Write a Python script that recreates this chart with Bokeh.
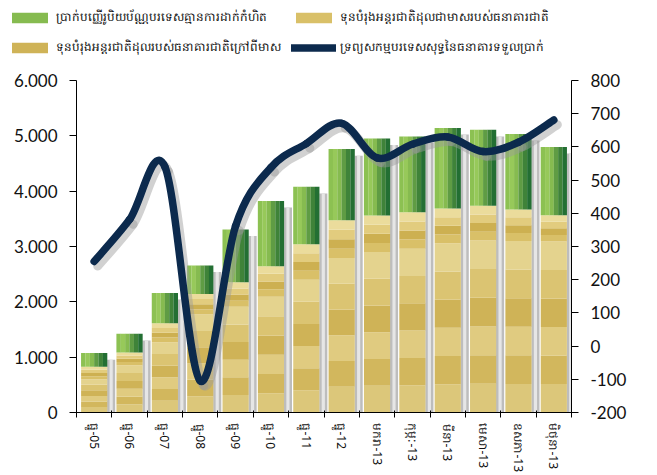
from bokeh.plotting import figure
from bokeh.layouts import column
from bokeh.models import Range1d, LinearAxis, FixedTicker, Legend, LegendItem, ColumnDataSource
from bokeh.embed import file_html
from bokeh.resources import INLINE

categories = ["ធ្នូ-05", "ធ្នូ-06", "ធ្នូ-07", "ធ្នូ-08", "ធ្នូ-09", "ធ្នូ-10", "ធ្នូ-11",
              "ធ្នូ-12", "មករា-13", "កុម្ភៈ-13", "មីនា-13", "មេសា-13", "ឧសភា-13", "មិថុនា-13"]

# stacked bars (left axis, millions USD)
reserves_ex_gold = [600, 855, 1270, 1770, 1910, 2090, 2400, 2790, 2900, 2960, 3060, 3110, 3100, 3090]
gold_reserves = [229, 231, 341, 373, 444, 555, 640, 684, 660, 657, 626, 627, 569, 476]
fx_deposits = [245, 337, 549, 514, 955, 1178, 1040, 1286, 1394, 1372, 1457, 1372, 1365, 1234]
# line (right axis)
net_foreign_assets = [255, 381, 540, -105, 362, 538, 610, 671, 567, 608, 630, 586, 614, 681]

left_ticks = [0, 1000, 2000, 3000, 4000, 5000, 6000]
left_tick_labels = ["0", "1.000", "2.000", "3.000", "4.000", "5.000", "6.000"]
right_ticks = [-200, -100, 0, 100, 200, 300, 400, 500, 600, 700, 800]
right_tick_labels = ["-200", "-100", "0", "100", "200", "300", "400", "500", "600", "700", "800"]

legend_labels = [
    "ប្រាក់បញ្ញើរូបិយប័ណ្ណបរទេសគ្មានការដាក់កំហិត",
    "ទុនបំរុងអន្តរជាតិដុលជាមាសរបស់ធនាគារជាតិ",
    "ទុនបំរុងអន្តរជាតិដុលរបស់ធនាគារជាតិក្រៅពីមាស",
    "ទ្រព្យសកម្មបរទេសសុទ្ធនៃធនាគារទទួលប្រាក់",
]

GREEN_COLS = ["#8cc152", "#97c95a", "#86bb50", "#5f9c44", "#3f8339", "#236f33"]
BAND_COLS = ["#d9c068", "#cdb051", "#e2cc7e", "#ebdc9c"]
TEX_COLS = ["#dcc77a", "#d2b75d", "#e0cb80", "#cfb357", "#dbc472", "#e4d38e"]
NAVY = "#0c2a4d"

n = len(categories)
xs = [i + 0.5 for i in range(n)]
lvl1 = reserves_ex_gold
lvl2 = [a + b for a, b in zip(lvl1, gold_reserves)]
tops = [a + b for a, b in zip(lvl2, fx_deposits)]

W = 649
LH = 64
p = figure(width=W, height=475 - LH, x_range=Range1d(0, n), y_range=Range1d(0, 6000),
           output_backend="svg", toolbar_location=None,
           min_border_left=76, min_border_right=78, min_border_top=16, min_border_bottom=20)
p.frame_align = False
p.extra_y_ranges = {"nfa": Range1d(-200, 800)}
p.xgrid.visible = False
p.ygrid.visible = False
p.outline_line_color = None

BW = 0.74

# shadow strips to the right of each bar
sh_top = [t - 120 for t in tops]
p.vbar(x=[x + 0.48 for x in xs], width=0.23, bottom=0, top=sh_top, fill_color="#bdbdbd", line_color=None)
p.vbar(x=[x + 0.48 for x in xs], width=0.09, bottom=0, top=sh_top, fill_color="#e6e6e6", line_color=None)

# textured bottom segment (reserves excluding gold)
k = len(TEX_COLS)
for j, c in enumerate(TEX_COLS):
    b = [v * j / k for v in lvl1]
    t = [v * (j + 1) / k for v in lvl1]
    p.vbar(x=xs, width=BW, bottom=b, top=t, fill_color=c, line_color=None)

# smooth gold band
k = len(BAND_COLS)
for j, c in enumerate(BAND_COLS):
    b = [lo + (hi - lo) * j / k for lo, hi in zip(lvl1, lvl2)]
    t = [lo + (hi - lo) * (j + 1) / k for lo, hi in zip(lvl1, lvl2)]
    p.vbar(x=xs, width=BW, bottom=b, top=t, fill_color=c, line_color=None)

# green top segment (horizontal gradient as vertical strips)
k = len(GREEN_COLS)
sw = BW / k
for j, c in enumerate(GREEN_COLS):
    p.vbar(x=[x - BW / 2 + sw * (j + 0.5) for x in xs], width=sw * 1.02, bottom=lvl2, top=tops,
           fill_color=c, line_color=None)

# smoothed line (Bezier segments computed from the data points)
def bezier_source(xv, yv, dx=0.0, dy=0.0):
    m = len(xv)
    d = dict(x0=[], y0=[], x1=[], y1=[], cx0=[], cy0=[], cx1=[], cy1=[])
    for i in range(m - 1):
        ip = max(i - 1, 0)
        inn = min(i + 2, m - 1)
        d["x0"].append(xv[i] + dx); d["y0"].append(yv[i] + dy)
        d["x1"].append(xv[i + 1] + dx); d["y1"].append(yv[i + 1] + dy)
        d["cx0"].append(xv[i] + (xv[i + 1] - xv[ip]) / 6 + dx)
        d["cy0"].append(yv[i] + (yv[i + 1] - yv[ip]) / 6 + dy)
        d["cx1"].append(xv[i + 1] - (xv[inn] - xv[i]) / 6 + dx)
        d["cy1"].append(yv[i + 1] - (yv[inn] - yv[i]) / 6 + dy)
    return ColumnDataSource(d)

p.bezier(x0="x0", y0="y0", x1="x1", y1="y1", cx0="cx0", cy0="cy0", cx1="cx1", cy1="cy1",
         source=bezier_source(xs, net_foreign_assets, 0.1, -14), y_range_name="nfa",
         line_color="#9a9a9a", line_alpha=0.45, line_width=9, line_cap="round")
p.bezier(x0="x0", y0="y0", x1="x1", y1="y1", cx0="cx0", cy0="cy0", cx1="cx1", cy1="cy1",
         source=bezier_source(xs, net_foreign_assets), y_range_name="nfa",
         line_color=NAVY, line_width=7.5, line_cap="round")

# axes
FONT = "Lato"
ya = p.yaxis[0]
ya.ticker = FixedTicker(ticks=left_ticks)
ya.major_label_overrides = dict(zip(left_ticks, left_tick_labels))
ra = LinearAxis(y_range_name="nfa", ticker=FixedTicker(ticks=right_ticks))
ra.major_label_overrides = dict(zip(right_ticks, right_tick_labels))
p.add_layout(ra, "right")
for ax in (ya, ra):
    ax.axis_line_color = "#000000"
    ax.major_tick_line_color = "#000000"
    ax.major_tick_out = 7
    ax.major_tick_in = 0
    ax.minor_tick_line_color = None
    ax.major_label_text_font = FONT
    ax.major_label_text_font_size = "17px"
    ax.major_label_text_color = "#111111"
    ax.major_label_standoff = 12

xa = p.xaxis[0]
xa.ticker = FixedTicker(ticks=xs, minor_ticks=list(range(n + 1)))
xa.major_label_overrides = dict(zip(xs, categories))
xa.major_label_orientation = "vertical"
xa.major_tick_line_color = None
xa.minor_tick_line_color = "#000000"
xa.minor_tick_out = 5
xa.minor_tick_in = 2
xa.axis_line_color = "#000000"
xa.major_label_text_font = "Noto Sans"
xa.major_label_text_font_size = "12px"
xa.major_label_text_color = "#111111"
xa.major_label_standoff = 5

# legend strip above the chart (legend-only renderers are hidden, icons still drawn)
lf = figure(width=W, height=LH, x_range=Range1d(0, n), y_range=Range1d(0, 6000),
            output_backend="svg", toolbar_location=None, x_axis_type=None, y_axis_type=None,
            min_border_left=0, min_border_right=0, min_border_top=0, min_border_bottom=0)
lf.frame_align = False
lf.xgrid.visible = False
lf.ygrid.visible = False
lf.outline_line_color = None
r_green = lf.vbar(x=xs[:1], top=tops[:1], width=BW, fill_color=GREEN_COLS[2], line_color=None, visible=False)
r_gold = lf.vbar(x=xs[:1], top=tops[:1], width=BW, fill_color=BAND_COLS[0], line_color=None, visible=False)
r_tex = lf.vbar(x=xs[:1], top=tops[:1], width=BW, fill_color=TEX_COLS[3], line_color=None, visible=False)
r_line = lf.line(x=xs[:2], y=tops[:2], line_color=NAVY, line_width=7.5, line_cap="round", visible=False)

legend = Legend(items=[
    LegendItem(label=legend_labels[0], renderers=[r_green]),
    LegendItem(label=legend_labels[2], renderers=[r_tex]),
    LegendItem(label=legend_labels[1], renderers=[r_gold]),
    LegendItem(label=legend_labels[3], renderers=[r_line]),
], ncols=2, location="top_left")
legend.label_text_font = "Noto Sans"
legend.label_text_font_size = "12px"
legend.label_text_color = "#111111"
legend.glyph_width = 45
legend.glyph_height = 13
legend.label_height = 20
legend.spacing = 10
legend.padding = 0
legend.margin = 7
legend.border_line_color = None
legend.background_fill_alpha = 0
legend.inactive_fill_alpha = 0
legend.label_standoff = 4
lf.add_layout(legend)

open("out.html", "w").write(file_html(column(lf, p, spacing=0), INLINE))
